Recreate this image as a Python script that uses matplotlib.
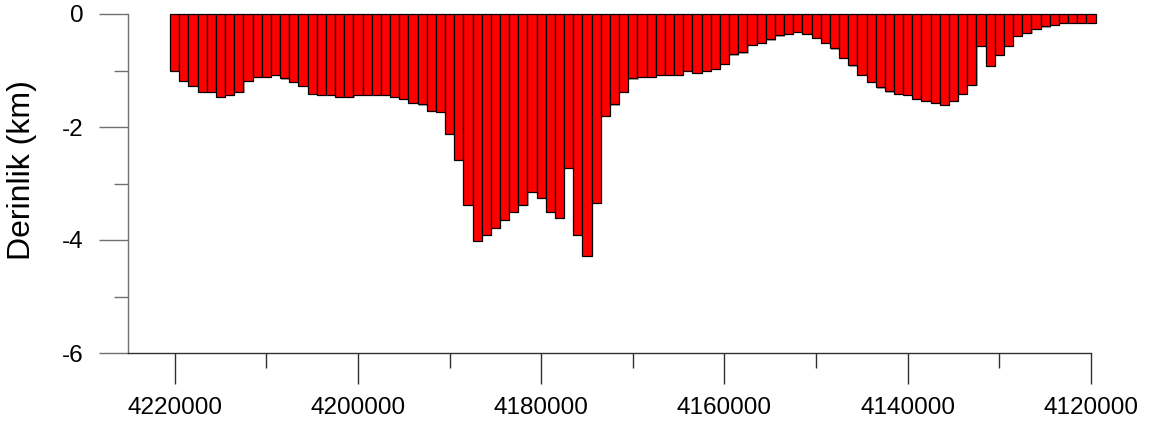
import numpy as np
import matplotlib
matplotlib.use("Agg")
import matplotlib.pyplot as plt
import matplotlib.patheffects as pe
from matplotlib.ticker import MultipleLocator

plt.rcParams['font.family'] = ['Liberation Sans', 'DejaVu Sans']

# Bar centres (northing, m) and depths (km)
northing = np.arange(4220000, 4119999, -1000)
depth_km = [
    1.01, 1.18, 1.28, 1.38, 1.38, 1.47, 1.44, 1.38, 1.18, 1.11,
    1.11, 1.08, 1.14, 1.21, 1.28, 1.41, 1.44, 1.44, 1.47, 1.47,
    1.44, 1.44, 1.44, 1.44, 1.47, 1.51, 1.57, 1.60, 1.71, 1.74,
    2.13, 2.59, 3.38, 4.01, 3.91, 3.78, 3.64, 3.51, 3.38, 3.15,
    3.25, 3.51, 3.61, 2.72, 3.91, 4.29, 3.34, 1.80, 1.60, 1.38,
    1.14, 1.11, 1.11, 1.08, 1.08, 1.08, 1.01, 1.05, 1.01, 0.975,
    0.88, 0.715, 0.68, 0.55, 0.51, 0.45, 0.38, 0.35, 0.32, 0.355,
    0.42, 0.51, 0.61, 0.78, 0.91, 1.08, 1.21, 1.30, 1.37, 1.41,
    1.44, 1.50, 1.54, 1.57, 1.61, 1.54, 1.41, 1.25, 0.56, 0.92,
    0.72, 0.56, 0.39, 0.33, 0.26, 0.22, 0.19, 0.155, 0.155, 0.155,
    0.155,
]
values = -np.array(depth_km)

x_major = [4220000, 4200000, 4180000, 4160000, 4140000, 4120000]
y_major = [0, -2, -4, -6]

fig = plt.figure(figsize=(11.59, 4.37), dpi=100)
ax = fig.add_axes([128/1159, 1 - 353/437, (1091-128)/1159, (353-14)/437])

bars = ax.bar(northing, values, width=1000, color='#ff0000',
              edgecolor='black', linewidth=0.9, clip_on=False, zorder=3)
for b in bars:
    b.set_path_effects([pe.SimplePatchShadow(offset=(0.8, -0.8),
                                             shadow_rgbFace='#888888', alpha=0.7),
                        pe.Normal()])

ax.set_xlim(4225100, 4120000)
ax.set_ylim(-6, 0)

ax.set_xticks(x_major)
ax.set_xticklabels([str(v) for v in x_major])
ax.xaxis.set_minor_locator(MultipleLocator(10000))
ax.set_yticks(y_major)
ax.set_yticklabels([str(v) for v in y_major])
ax.yaxis.set_minor_locator(MultipleLocator(1))

for s in ['top', 'right']:
    ax.spines[s].set_visible(False)
ax.spines['left'].set_color('#707070')
ax.spines['bottom'].set_color('#303030')
ax.spines['left'].set_linewidth(1.0)
ax.spines['bottom'].set_linewidth(1.0)

ax.tick_params(axis='y', which='major', length=21, width=1.0, color='#707070',
               labelsize=17.5, pad=11)
ax.tick_params(axis='y', which='minor', length=10, width=1.0, color='#707070')
ax.tick_params(axis='x', which='major', length=22, width=1.0, color='#303030',
               labelsize=17.5, pad=10)
ax.tick_params(axis='x', which='minor', length=11, width=1.0, color='#303030')

ax.set_ylabel('Derinlik (km)', fontsize=23)
ax.yaxis.set_label_coords(-0.094, 0.54)

fig.savefig('out.png', dpi=100)
